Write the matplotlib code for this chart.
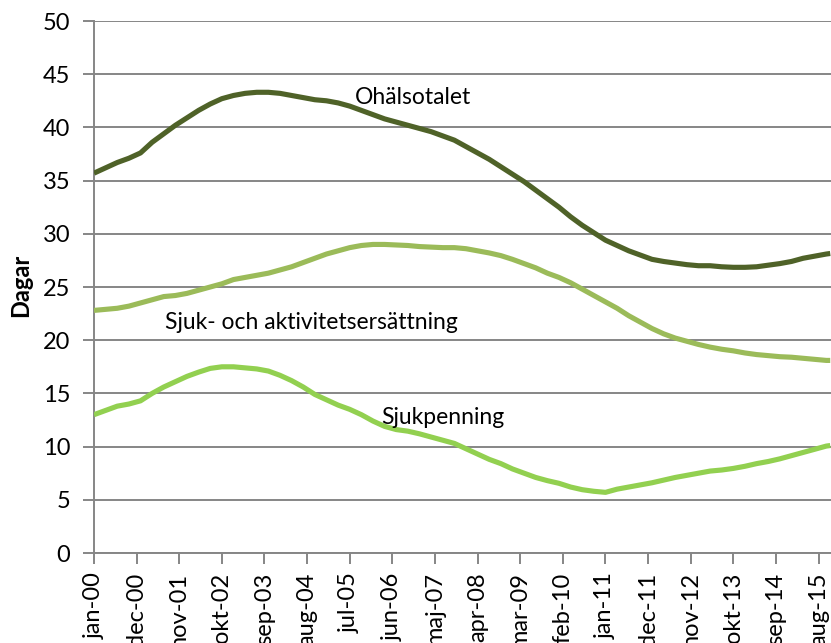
import matplotlib
matplotlib.use("Agg")
import matplotlib.pyplot as plt
import numpy as np

# month index (0 = jan-00), sampled quarterly
months = list(range(0, 190, 3)) + [190]

ohalsotalet = [35.7, 36.2, 36.7, 37.1, 37.6, 38.6, 39.4, 40.2, 40.9, 41.6,
               42.2, 42.7, 43.0, 43.2, 43.3, 43.3, 43.2, 43.0, 42.8, 42.6,
               42.5, 42.3, 42.0, 41.6, 41.2, 40.8, 40.5, 40.2, 39.9, 39.6,
               39.2, 38.8, 38.2, 37.6, 37.0, 36.3, 35.6, 34.9, 34.1, 33.3,
               32.5, 31.6, 30.8, 30.1, 29.4, 28.9, 28.4, 28.0, 27.6, 27.4,
               27.25, 27.1, 27.0, 27.0, 26.9, 26.85, 26.85, 26.9, 27.05, 27.2,
               27.4, 27.7, 27.9, 28.1, 28.15]

sjuk_akt = [22.8, 22.9, 23.0, 23.2, 23.5, 23.8, 24.1, 24.2, 24.4, 24.7,
            25.0, 25.3, 25.7, 25.9, 26.1, 26.3, 26.6, 26.9, 27.3, 27.7,
            28.1, 28.4, 28.7, 28.9, 29.0, 29.0, 28.95, 28.9, 28.8, 28.75,
            28.7, 28.7, 28.6, 28.4, 28.2, 27.95, 27.6, 27.2, 26.8, 26.3,
            25.9, 25.4, 24.8, 24.2, 23.6, 23.0, 22.3, 21.7, 21.1, 20.6,
            20.2, 19.9, 19.6, 19.35, 19.15, 19.0, 18.8, 18.65, 18.55, 18.45,
            18.4, 18.3, 18.2, 18.1, 18.1]

sjukpenning = [13.0, 13.4, 13.8, 14.0, 14.3, 15.0, 15.6, 16.1, 16.6, 17.0,
               17.35, 17.5, 17.5, 17.4, 17.3, 17.1, 16.7, 16.2, 15.6, 14.9,
               14.4, 13.9, 13.5, 13.0, 12.4, 11.9, 11.6, 11.45, 11.2, 10.9,
               10.6, 10.3, 9.8, 9.3, 8.8, 8.4, 7.9, 7.5, 7.1, 6.8,
               6.55, 6.2, 5.95, 5.8, 5.7, 6.0, 6.2, 6.4, 6.6, 6.85,
               7.1, 7.3, 7.5, 7.7, 7.8, 7.95, 8.15, 8.4, 8.6, 8.85,
               9.15, 9.45, 9.75, 10.05, 10.1]

tick_months = list(range(0, 188, 11))
tick_labels = ["jan-00", "dec-00", "nov-01", "okt-02", "sep-03", "aug-04",
               "jul-05", "jun-06", "maj-07", "apr-08", "mar-09", "feb-10",
               "jan-11", "dec-11", "nov-12", "okt-13", "sep-14", "aug-15"]

series_names = ["Ohälsotalet", "Sjuk- och aktivitetsersättning", "Sjukpenning"]

plt.rcParams['font.family'] = ['Lato', 'DejaVu Sans']

fig = plt.figure(figsize=(8.31, 6.43), dpi=100)
ax = fig.add_axes([94/831, 1-553/643, (831-94)/831, (553-21)/643])

ax.plot(months, ohalsotalet, color="#4F6228", lw=3.7, solid_capstyle="butt", zorder=3)
ax.plot(months, sjuk_akt, color="#9BBB59", lw=3.7, solid_capstyle="butt", zorder=3)
ax.plot(months, sjukpenning, color="#92D050", lw=3.7, solid_capstyle="butt", zorder=3)

ax.set_xlim(0, 190.2)
ax.set_ylim(0, 50)
ax.set_yticks(range(0, 51, 5))
ax.set_xticks(tick_months)
ax.set_xticklabels(tick_labels, rotation=90)

gridc = "#868686"
ax.yaxis.grid(True, color=gridc, lw=1.4)
ax.set_axisbelow(True)
for s in ["top", "right"]:
    ax.spines[s].set_visible(False)
for s in ["left", "bottom"]:
    ax.spines[s].set_color(gridc)
    ax.spines[s].set_linewidth(1.4)
ax.tick_params(axis="both", direction="out", length=8, width=1.4, color=gridc,
               labelsize=17, labelcolor="black")
ax.tick_params(axis="y", pad=9)
ax.tick_params(axis="x", pad=6)

ax.set_ylabel("Dagar", fontsize=17, fontweight="bold", labelpad=8)
ax.yaxis.set_label_coords(18/831 - 94/831, (553-285)/(553-21), transform=None) if False else None
ax.yaxis.label.set_position((0, (553 - 285) / (553 - 21)))

ax.text(67.3, 42.8, series_names[0], fontsize=16.5, va="center", ha="left")
ax.text(18.3, 21.7, series_names[1], fontsize=16.5, va="center", ha="left")
ax.text(74.2, 12.7, series_names[2], fontsize=16.5, va="center", ha="left")

fig.savefig("out.png", dpi=100)
